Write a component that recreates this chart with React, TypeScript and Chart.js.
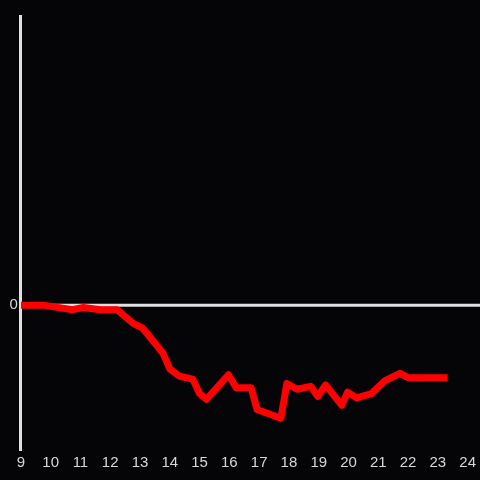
import React, { useEffect, useRef } from "react";
import { Chart, registerables } from "chart.js";

Chart.register(...registerables);

const hours = [9, 9.8, 10.73, 11.1, 11.67, 12.23, 12.77, 13.1, 13.77, 14.0, 14.33, 14.77, 15.0, 15.23, 15.97, 16.23, 16.73, 16.93, 17.73, 17.93, 18.27, 18.73, 18.97, 19.23, 19.77, 19.97, 20.27, 20.77, 21.23, 21.73, 22.0, 23.33];
const values = [0, 0, -0.03, -0.015, -0.03, -0.03, -0.125, -0.16, -0.33, -0.44, -0.49, -0.51, -0.61, -0.65, -0.48, -0.57, -0.57, -0.72, -0.78, -0.54, -0.58, -0.56, -0.63, -0.55, -0.69, -0.6, -0.64, -0.61, -0.52, -0.47, -0.5, -0.5];
const xMin = 9;
const xMax = 24;
const yMin = -1;
const yMax = 2;
const yTickValues = [0];

const BG = "#050507";
const AXIS = "#e0e0e0";
const TICK = "#d8d8d8";

const bgPlugin = {
  id: "bg",
  beforeDraw(chart: any) {
    const { ctx, width, height } = chart;
    ctx.save();
    ctx.fillStyle = BG;
    ctx.fillRect(0, 0, width, height);
    ctx.restore();
  },
};

const zeroLinePlugin = {
  id: "zeroLine",
  beforeDatasetsDraw(chart: any) {
    const { ctx, chartArea, width } = chart;
    const y = chart.scales.y.getPixelForValue(0);
    ctx.save();
    ctx.strokeStyle = AXIS;
    ctx.lineWidth = 3;
    ctx.beginPath();
    ctx.moveTo(chartArea.left, y);
    ctx.lineTo(width, y);
    ctx.stroke();
    ctx.restore();
  },
};

export default function App() {
  const ref = useRef<HTMLCanvasElement>(null);
  useEffect(() => {
    document.body.style.margin = "0";
    document.body.style.background = BG;
    const chart = new Chart(ref.current!, {
      type: "line",
      data: {
        datasets: [
          {
            data: hours.map((h, i) => ({ x: h, y: values[i] })),
            borderColor: "#ff0000",
            borderWidth: 7,
            pointRadius: 0,
            fill: false,
            tension: 0,
            borderJoinStyle: "round",
          },
        ],
      },
      options: {
        animation: false,
        responsive: false,
        maintainAspectRatio: false,
        layout: { padding: { top: 16, left: 6.5, right: 2, bottom: 4 } },
        plugins: { legend: { display: false }, tooltip: { enabled: false } },
        scales: {
          x: {
            type: "linear",
            min: xMin,
            max: xMax,
            ticks: {
              stepSize: 1,
              color: TICK,
              font: { family: "Liberation Sans", size: 15 },
              padding: 4,
            },
            grid: { display: false, drawTicks: false },
            border: { display: false },
          },
          y: {
            type: "linear",
            min: yMin,
            max: yMax,
            afterBuildTicks(scale: any) {
              scale.ticks = yTickValues.map((v) => ({ value: v }));
            },
            ticks: {
              color: TICK,
              font: { family: "Liberation Sans", size: 15 },
              padding: 3,
            },
            grid: { display: false, drawTicks: false },
            border: { display: true, color: AXIS, width: 3 },
          },
        },
      },
      plugins: [bgPlugin, zeroLinePlugin],
    });
    return () => chart.destroy();
  }, []);
  return (
    <div style={{ width: 480, height: 480, background: BG }}>
      <canvas ref={ref} width={480} height={480} style={{ display: "block" }} />
    </div>
  );
}
